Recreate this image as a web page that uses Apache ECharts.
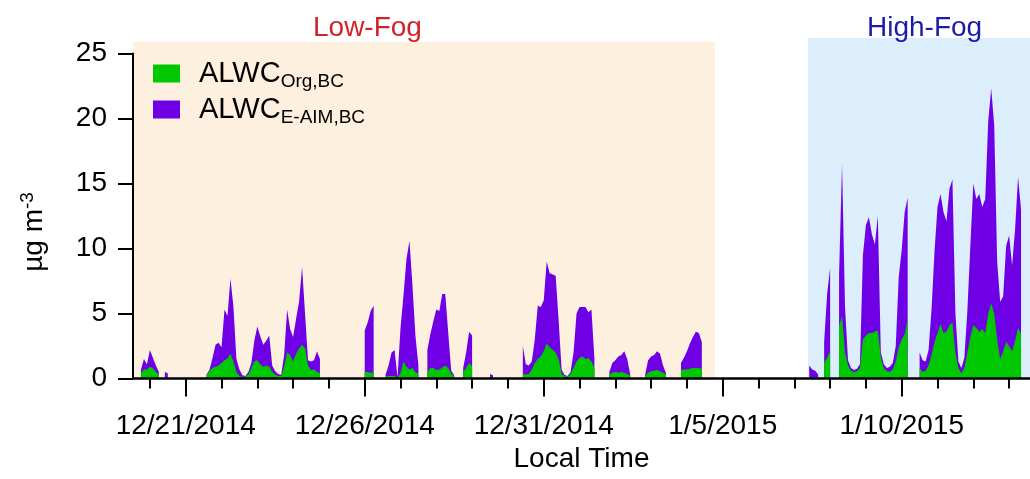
<!DOCTYPE html>
<html>
<head>
<meta charset="utf-8">
<title>ALWC time series</title>
<script src="https://cdn.jsdelivr.net/npm/echarts@6/dist/echarts.min.js"></script>
<style>
  html, body { margin: 0; padding: 0; background: #fff; }
  #chart { width: 1030px; height: 479px; }
</style>
</head>
<body>
<div id="chart"></div>
<script>
// Two-hourly ALWC (µg m^-3), one row of 12 values (00:00 ... 22:00 local) per day.
const _ = null;
const days = [
  '2014-12-19', '2014-12-20', '2014-12-21', '2014-12-22', '2014-12-23', '2014-12-24',
  '2014-12-25', '2014-12-26', '2014-12-27', '2014-12-28', '2014-12-29', '2014-12-30',
  '2014-12-31', '2015-01-01', '2015-01-02', '2015-01-03', '2015-01-04', '2015-01-05',
  '2015-01-06', '2015-01-07', '2015-01-08', '2015-01-09', '2015-01-10', '2015-01-11',
  '2015-01-12', '2015-01-13'
];
const hours = [0, 2, 4, 6, 8, 10, 12, 14, 16, 18, 20, 22];

// ALWC_Org,BC
const alwcOrg = [
  [_, _, _, _, _, _, _, _, _, 0.4, 0.7, 0.7],
  [0.9, 0.8, 0.5, 0.3, _, 0.05, 0.05, _, _, _, _, _],
  [_, _, _, _, _, _, _, 0.25, 0.6, 0.8, 0.9, 1.0],
  [1.2, 1.4, 1.55, 1.9, 1.3, 0.5, 0.2, 0.12, 0.15, 0.3, 0.8, 1.3],
  [1.4, 1.1, 0.9, 1.0, 0.9, 0.5, 0.3, 0.2, 0.2, 0.9, 2.0, 1.8],
  [1.3, 1.9, 2.3, 2.6, 2.3, 1.0, 0.65, 0.7, 0.5, 0.4, _, _],
  [_, _, _, _, _, _, _, _, _, _, _, _],
  [0.5, 0.5, 0.45, 0.45, _, _, _, 0.15, 0.2, 0.2, 0.2, 0.05],
  [0.4, 1.3, 0.9, 0.7, 0.8, 0.5, 0.35, _, _, 0.5, 0.8, 0.8],
  [0.65, 0.7, 0.85, 1.0, 0.8, 0.35, 0.2, _, _, 0.5, 0.8, 1.2],
  [0.95, _, _, _, _, _, 0, 0, _, _, _, _],
  [_, _, _, _, _, 0.35, 0.3, 0.35, 0.7, 1.2, 1.5, 1.7],
  [2.1, 2.7, 2.4, 2.2, 2.0, 1.5, 0.35, 0.2, 0.15, 0.35, 0.8, 1.3],
  [1.6, 1.7, 1.5, 1.55, 1.3, 0.8, _, _, _, _, 0.3, 0.45],
  [0.5, 0.45, 0.5, 0.45, 0.35, 0.2, _, _, _, _, 0.2, 0.45],
  [0.55, 0.6, 0.65, 0.55, 0.45, 0.3, _, _, _, _, 0.65, 0.7],
  [0.7, 0.75, 0.8, 0.8, 0.8, 0.75, _, _, _, _, _, _],
  [_, _, _, _, _, _, _, _, _, _, _, _],
  [_, _, _, _, _, _, _, _, _, _, _, _],
  [_, _, _, _, _, 0.1, 0.1, 0.1, 0.05, _, 1.2, 1.6],
  [2.1, _, _, 4.0, 4.8, 2.0, 1.0, 0.6, 0.5, 0.55, 0.8, 3.0],
  [3.3, 3.5, 3.5, 3.6, 3.7, 1.6, 0.8, 0.55, 0.5, 0.7, 1.3, 2.4],
  [3.0, 3.4, 4.6, _, _, _, 0.8, 0.5, 0.6, 1.0, 1.8, 2.8],
  [3.5, 4.2, 3.5, 3.6, 4.1, 4.3, 2.0, 0.8, 0.4, 0.8, 2.0, 3.2],
  [4.1, 3.9, 3.6, 3.8, 3.5, 5.0, 5.8, 5.0, 3.0, 1.5, 2.1, 2.8],
  [2.5, 2.1, 2.9, 3.9, 3.4, _, _, _, _, _, _, _]
];

// ALWC_E-AIM,BC (stacked above the organic part)
const alwcEaim = [
  [_, _, _, _, _, _, _, _, _, 0.3, 0.8, 0.4],
  [1.3, 0.8, 0.5, 0.2, _, 0.45, 0.35, _, _, _, _, _],
  [_, _, _, _, _, _, _, 0.05, 0.1, 0.8, 1.7, 1.75],
  [1.2, 3.9, 3.25, 5.8, 4.2, 1.0, 0.5, 0.13, 0.05, 0.2, 0.4, 1.6],
  [2.6, 2.15, 1.7, 1.9, 2.4, 0.5, 0.25, 0.15, 0.07, 0.9, 3.3, 2.0],
  [1.9, 2.7, 3.6, 6.0, 2.7, 0.4, 0.65, 0.7, 1.6, 1.1, _, _],
  [_, _, _, _, _, _, _, _, _, _, _, _],
  [3.2, 3.8, 4.75, 5.15, _, _, _, 0.15, 0.8, 1.8, 2.0, 0.05],
  [3.5, 5.1, 8.3, 9.9, 6.4, 2.8, 0.65, _, _, 1.7, 2.6, 3.6],
  [4.65, 4.5, 5.65, 5.5, 2.7, 0.25, 0.05, _, _, 0.3, 1.2, 2.4],
  [2.35, _, _, _, _, _, 0.35, 0.25, _, _, _, _],
  [_, _, _, _, _, 2.15, 0.8, 0.65, 0.6, 1.8, 4.1, 3.8],
  [3.9, 6.3, 5.7, 5.8, 5.9, 3.0, 0.35, 0.07, 0.05, 0.15, 1.2, 3.7],
  [3.9, 3.8, 4.0, 3.55, 4.0, 0.7, _, _, _, _, 0.2, 0.75],
  [0.9, 1.25, 1.3, 1.65, 1.15, 0.1, _, _, _, _, 0.1, 0.95],
  [1.15, 1.2, 1.45, 1.35, 0.55, 0.1, _, _, _, _, 0.55, 0.9],
  [1.4, 1.95, 2.4, 2.8, 2.7, 2.05, _, _, _, _, _, _],
  [_, _, _, _, _, _, _, _, _, _, _, _],
  [_, _, _, _, _, _, _, _, _, _, _, _],
  [_, _, _, _, _, 0.9, 0.6, 0.5, 0.25, _, 1.6, 4.9],
  [6.4, _, _, 4.0, 11.7, 3.5, 0.4, 0.2, 0.15, 0.2, 0.3, 6.5],
  [8.5, 8.9, 7.6, 6.7, 8.8, 0.4, 0.3, 0.25, 0.4, 0.5, 1.2, 5.4],
  [6.9, 9.4, 9.3, _, _, _, 1.2, 0.9, 0.7, 1.2, 3.5, 7.0],
  [9.7, 10.0, 9.3, 8.5, 10.5, 11.0, 3.0, 0.5, 0.4, 0.8, 3.2, 7.0],
  [10.9, 9.9, 10.6, 9.4, 10.3, 14.8, 16.5, 14.5, 6.0, 4.4, 4.2, 7.4],
  [8.5, 6.6, 8.6, 11.6, 9.6, _, _, _, _, _, _, _]
];

// Labelled ticks on the time axis; every midnight gets a small tick.
const tickLabels = ['12/21/2014', '12/26/2014', '12/31/2014', '1/5/2015', '1/10/2015'];
const dayTickDays = days.slice(1);

// Shaded periods: [start, end, top of band in µg m^-3]
const lowFog = ['2014-12-19T12:40', '2015-01-04T18:50', 25.9];
const highFog = ['2015-01-07T09:10', '2015-01-13T14:00', 26.2];

const axisStart = '2014-12-19T12:40';
const axisEnd = '2015-01-13T14:00';
const bandTop = 26.2;   // headroom of the shading layer above the 25 tick

// ---- helpers ----
function ts(s) {
  const [d, t] = s.split('T');
  const [y, m, dd] = d.split('-').map(Number);
  const [hh, mm] = (t || '00:00').split(':').map(Number);
  return Date.UTC(y, m - 1, dd, hh, mm);
}
function labelTs(lbl) {
  const [m, d, y] = lbl.split('/').map(Number);
  return Date.UTC(y, m - 1, d);
}
function fmtDate(v) {
  const dt = new Date(v);
  return (dt.getUTCMonth() + 1) + '/' + dt.getUTCDate() + '/' + dt.getUTCFullYear();
}
// [time, value] pairs; `under` (optional) is added below each value so that
// the E-AIM band sits on top of the organic band.
function toPoints(rows, under) {
  const out = [];
  days.forEach((day, i) => {
    hours.forEach((h, j) => {
      const t = ts(day) + h * 3600 * 1000;
      let v = rows[i][j];
      if (v != null && under) v = +(v + under[i][j]).toFixed(3);
      out.push([t, v]);
    });
  });
  return out;
}

const GREEN = '#00c800';
const PURPLE = '#6f00e6';
const FONT = '"Liberation Sans", Arial, Helvetica, sans-serif';

const majorTicks = tickLabels.map(labelTs);
const dayTicks = dayTickDays.map(ts);
const xMin = ts(axisStart), xMax = ts(axisEnd);

const legendNames = {
  'ALWC Org,BC': ['ALWC', 'Org,BC'],
  'ALWC E-AIM,BC': ['ALWC', 'E-AIM,BC']
};

// plot area: 0 at y=378.5, 13 px per unit
const PLOT_BOTTOM = 100.5, PX_PER_UNIT = 13;

const chart = echarts.init(document.getElementById('chart'), null, { renderer: 'canvas' });
chart.setOption({
  animation: false,
  backgroundColor: '#ffffff',
  textStyle: { fontFamily: FONT },
  title: [
    { text: 'Low-Fog', left: 313, top: 14, padding: 0,
      textStyle: { color: '#d2232a', fontSize: 28, fontWeight: 'normal', fontFamily: FONT } },
    { text: 'High-Fog', left: 867, top: 14, padding: 0,
      textStyle: { color: '#1c1caa', fontSize: 28, fontWeight: 'normal', fontFamily: FONT } }
  ],
  grid: [
    { left: 133, right: 0, top: 53.5, bottom: PLOT_BOTTOM },
    // shading layer: same x scale, taller so the bands can rise above the 25 tick
    { left: 133, right: 0, top: 479 - PLOT_BOTTOM - bandTop * PX_PER_UNIT, bottom: PLOT_BOTTOM }
  ],
  legend: {
    orient: 'vertical',
    left: 148, top: 54,
    itemWidth: 27, itemHeight: 18, itemGap: 4,
    icon: 'rect',
    data: ['ALWC Org,BC', 'ALWC E-AIM,BC'],
    formatter: name => '{m|' + legendNames[name][0] + '}{s|' + legendNames[name][1] + '}',
    textStyle: {
      rich: {
        m: { fontSize: 29, color: '#000', fontFamily: FONT, padding: [0, 0, 0, 14] },
        s: { fontSize: 19, color: '#000', fontFamily: FONT, padding: [16, 0, 0, 0] }
      }
    }
  },
  xAxis: [
    {
      type: 'value', gridIndex: 0, min: xMin, max: xMax, z: 10,
      axisLine: { show: true, onZero: false, lineStyle: { color: '#000', width: 2.5 } },
      axisTick: { show: true, customValues: majorTicks, length: 18, lineStyle: { color: '#000', width: 2 } },
      axisLabel: { show: true, customValues: majorTicks, formatter: fmtDate,
        fontSize: 28, color: '#000', margin: 34, fontFamily: FONT },
      splitLine: { show: false },
      name: 'Local Time', nameLocation: 'middle', nameGap: 65,
      nameTextStyle: { fontSize: 28, color: '#000', fontFamily: FONT }
    },
    {
      type: 'value', gridIndex: 0, min: xMin, max: xMax, position: 'bottom', z: 10,
      axisLine: { show: false },
      axisTick: { show: true, customValues: dayTicks, length: 10, lineStyle: { color: '#000', width: 2 } },
      axisLabel: { show: false },
      splitLine: { show: false }
    },
    {
      type: 'value', gridIndex: 1, min: xMin, max: xMax, show: false
    }
  ],
  yAxis: [
    {
      type: 'value', gridIndex: 0, min: 0, max: 25, interval: 5, z: 10,
      axisLine: { show: true, lineStyle: { color: '#000', width: 2 } },
      axisTick: { show: true, length: 15, lineStyle: { color: '#000', width: 2 } },
      axisLabel: { fontSize: 28, color: '#000', margin: 26, fontFamily: FONT },
      splitLine: { show: false },
      name: '{m|µg m}{p|-3}',
      nameLocation: 'middle', nameRotate: 90, nameGap: 82,
      nameTextStyle: {
        padding: [0, 32, 0, 0],
        rich: {
          m: { fontSize: 28, color: '#000', fontFamily: FONT },
          p: { fontSize: 19, color: '#000', fontFamily: FONT, padding: [0, 0, 14, 0] }
        }
      }
    },
    {
      type: 'value', gridIndex: 1, min: 0, max: bandTop, show: false
    }
  ],
  series: [
    {
      name: 'fog periods', type: 'line', xAxisIndex: 2, yAxisIndex: 1,
      data: [], z: 0, silent: true,
      markArea: {
        silent: true,
        data: [
          [{ coord: [ts(lowFog[0]), 0], itemStyle: { color: '#fdf0df' } }, { coord: [ts(lowFog[1]), lowFog[2]] }],
          [{ coord: [ts(highFog[0]), 0], itemStyle: { color: '#dcedfb' } }, { coord: [ts(highFog[1]), highFog[2]] }]
        ]
      }
    },
    {
      // E-AIM band drawn from the cumulative top down to the axis; the organic band covers its lower part
      name: 'ALWC E-AIM,BC', type: 'line',
      xAxisIndex: 0, yAxisIndex: 0,
      data: toPoints(alwcEaim, alwcOrg),
      symbol: 'none', showSymbol: false, connectNulls: false,
      lineStyle: { width: 0 }, itemStyle: { color: PURPLE },
      areaStyle: { color: PURPLE, opacity: 1 },
      z: 2
    },
    {
      name: 'ALWC Org,BC', type: 'line',
      xAxisIndex: 0, yAxisIndex: 0,
      data: toPoints(alwcOrg),
      symbol: 'none', showSymbol: false, connectNulls: false,
      lineStyle: { width: 0 }, itemStyle: { color: GREEN },
      areaStyle: { color: GREEN, opacity: 1 },
      z: 3
    }
  ]
});
</script>
</body>
</html>
